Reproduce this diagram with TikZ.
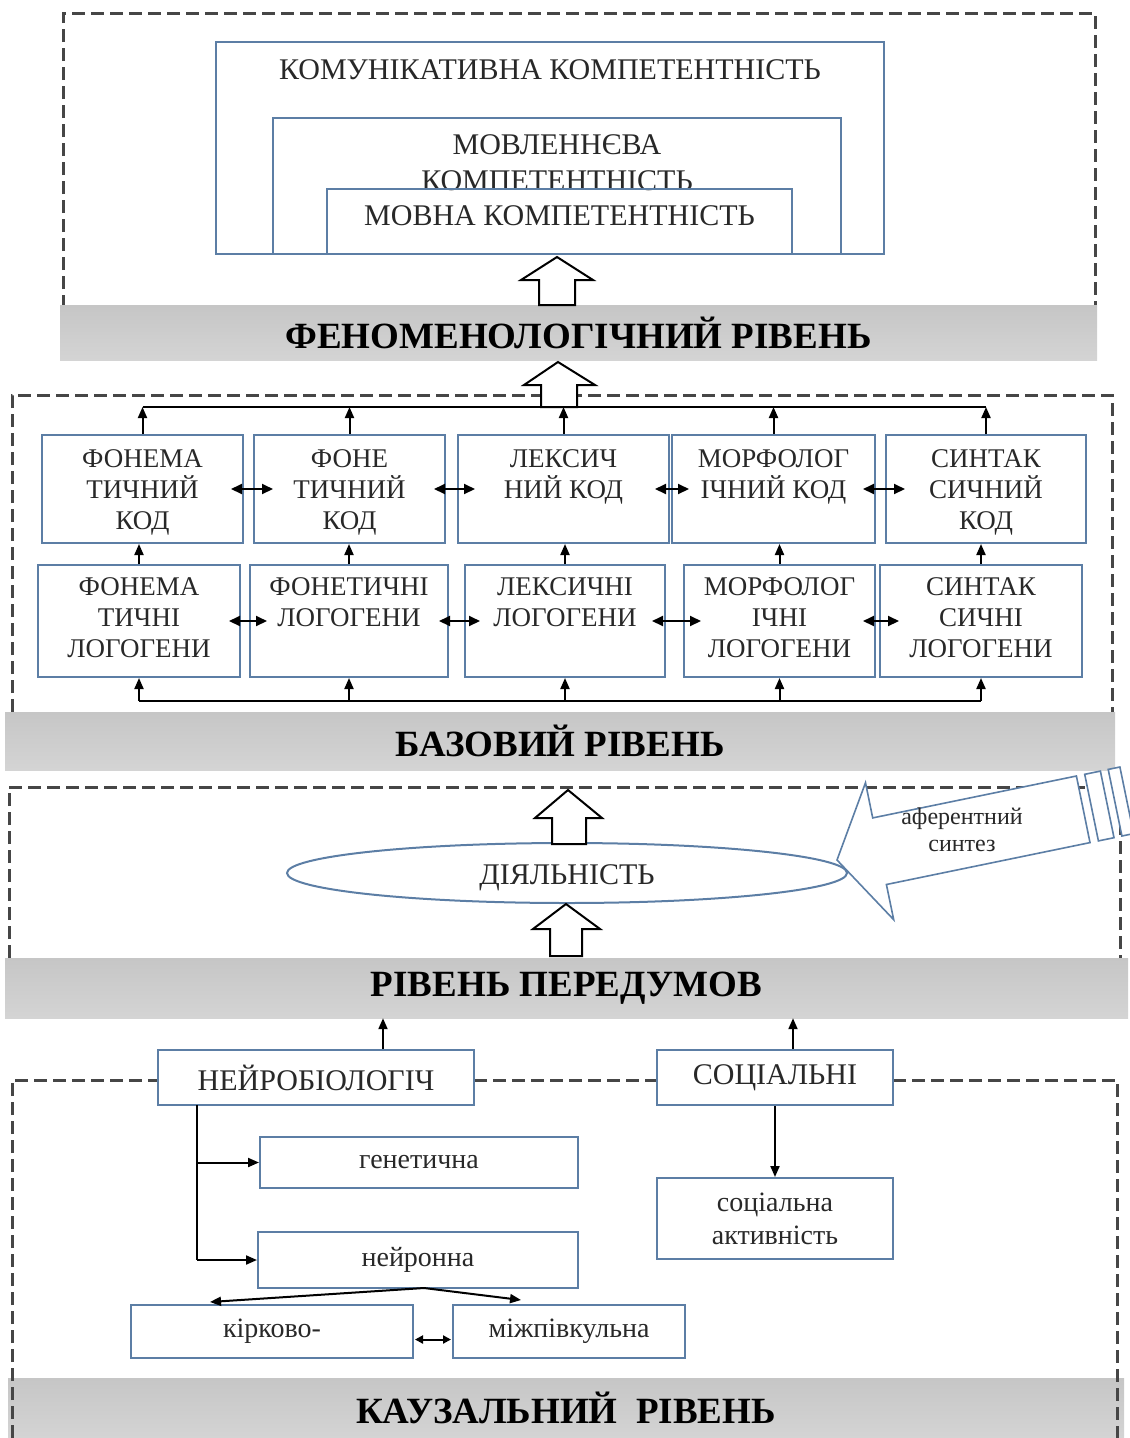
\documentclass[tikz,border=0pt]{standalone}
\usepackage{fontspec}
\setmainfont{Liberation Serif}
\usetikzlibrary{arrows.meta,shapes.geometric,calc}
\definecolor{boxc}{RGB}{92,126,165}
\definecolor{txtc}{RGB}{40,40,40}
\definecolor{dashc}{RGB}{70,70,70}
\definecolor{bandtop}{RGB}{198,198,198}
\definecolor{bandbot}{RGB}{212,212,212}
\begin{document}
\begin{tikzpicture}[x=1pt,y=-1pt,
 box/.style={draw=boxc,line width=2pt,rectangle,inner sep=0pt},
 lbl/.style={text=txtc,align=center,font=\fontsize{27}{31}\selectfont,inner sep=0pt},
 big/.style={text=txtc,align=center,font=\fontsize{30}{36}\selectfont,inner sep=0pt},
 low/.style={text=txtc,align=center,font=\fontsize{28}{33}\selectfont,inner sep=0pt},
 band/.style={rectangle,inner sep=0pt,top color=bandtop,bottom color=bandbot,text=black,font=\bfseries\fontsize{37}{40}\selectfont},
 dashln/.style={draw=dashc,line width=3pt,dash pattern=on 13pt off 6pt},
 arr/.style={-{Triangle[length=11pt,width=9pt]},line width=2pt,black},
 darr/.style={{Triangle[length=11pt,width=10pt]}-{Triangle[length=11pt,width=10pt]},line width=2pt,black},
 blk/.style={draw=black,line width=2pt,fill=white,line join=miter}
]
\useasboundingbox (0,0) rectangle (1130,1438);

% ---------- dashed frames ----------
\draw[dashln] (63,308) -- (63,13) -- (1095,13) -- (1095,308);
\draw[dashln] (12,712) -- (12,395) -- (1112,395) -- (1112,712);
\draw[dashln] (9,958) -- (9,787) -- (1085,787);
\draw[dashln] (1120,822) -- (1120,958);

% ---------- grey bands ----------
\node[band,minimum width=1037,minimum height=55] (b1) at (578.5,333) {ФЕНОМЕНОЛОГІЧНИЙ РІВЕНЬ};
\node[band,minimum width=1110,minimum height=58] (b2) at (560,741) {БАЗОВИЙ РІВЕНЬ};
\node[band,minimum width=1123,minimum height=60] (b3) at (566.5,988) {РІВЕНЬ ПЕРЕДУМОВ};
\node[band,minimum width=1116,minimum height=60] (b4) at (566,1408) {КАУЗАЛЬНИЙ\ \ РІВЕНЬ};

% ---------- phenomenological level ----------
\node[box,minimum width=668,minimum height=212] (kom) at (550,148) {};
\node[big,anchor=north] at ([yshift=-18pt]kom.north) {КОМУНІКАТИВНА КОМПЕТЕНТНІСТЬ};
\node[box,minimum width=568,minimum height=136] (mov) at (557,186) {};
\node[big,anchor=north] at ([yshift=-17pt]mov.north) {МОВЛЕННЄВА\\КОМПЕТЕНТНІСТЬ};
\node[box,minimum width=465,minimum height=65] (mn) at (559.5,221.5) {};
\node[big,anchor=north] at ([yshift=-17pt]mn.north) {МОВНА КОМПЕТЕНТНІСТЬ};

% block arrow kom <- b1
\draw[blk] (557,257) -- (593,280) -- (575,280) -- (575,305) -- (539,305) -- (539,280) -- (521,280) -- cycle;
% block arrow b1 <- base
\draw[blk] (558,362) -- (595,385) -- (577,385) -- (577,407) -- (541,407) -- (541,385) -- (524,385) -- cycle;

% ---------- base level ----------
\node[box,minimum width=201,minimum height=108] (c1) at (142.5,489) {};
\node[box,minimum width=191,minimum height=108] (c2) at (349.5,489) {};
\node[box,minimum width=211,minimum height=108] (c3) at (563.5,489) {};
\node[box,minimum width=203,minimum height=108] (c4) at (773.5,489) {};
\node[box,minimum width=200,minimum height=108] (c5) at (986,489) {};
\node[lbl,anchor=north] at ([yshift=-15pt]c1.north) {ФОНЕМА\\ТИЧНИЙ\\КОД};
\node[lbl,anchor=north] at ([yshift=-15pt]c2.north) {ФОНЕ\\ТИЧНИЙ\\КОД};
\node[lbl,anchor=north] at ([yshift=-15pt]c3.north) {ЛЕКСИЧ\\НИЙ КОД};
\node[lbl,anchor=north] at ([yshift=-15pt]c4.north) {МОРФОЛОГ\\ІЧНИЙ КОД};
\node[lbl,anchor=north] at ([yshift=-15pt]c5.north) {СИНТАК\\СИЧНИЙ\\КОД};

\node[box,minimum width=202,minimum height=112] (l1) at (139,621) {};
\node[box,minimum width=198,minimum height=112] (l2) at (349,621) {};
\node[box,minimum width=200,minimum height=112] (l3) at (565,621) {};
\node[box,minimum width=191,minimum height=112] (l4) at (779.5,621) {};
\node[box,minimum width=202,minimum height=112] (l5) at (981,621) {};
\node[lbl,anchor=north] at ([yshift=-13pt]l1.north) {ФОНЕМА\\ТИЧНІ\\ЛОГОГЕНИ};
\node[lbl,anchor=north] at ([yshift=-13pt]l2.north) {ФОНЕТИЧНІ\\ЛОГОГЕНИ};
\node[lbl,anchor=north] at ([yshift=-13pt]l3.north) {ЛЕКСИЧНІ\\ЛОГОГЕНИ};
\node[lbl,anchor=north] at ([yshift=-13pt]l4.north) {МОРФОЛОГ\\ІЧНІ\\ЛОГОГЕНИ};
\node[lbl,anchor=north] at ([yshift=-13pt]l5.north) {СИНТАК\\СИЧНІ\\ЛОГОГЕНИ};

\coordinate (tl) at (0,407);
\coordinate (bl) at (0,701);
\draw[line width=2pt] (c1.north |- tl) -- (c5.north |- tl);
\draw[line width=2pt] (l1.south |- bl) -- (l5.south |- bl);
\foreach \i in {1,...,5}{
  \draw[arr] (c\i.north) -- (c\i.north |- tl);
  \draw[arr] (l\i.north) -- (l\i.north |- c\i.south);
  \draw[arr] (l\i.south |- bl) -- (l\i.south);
}
\draw[darr] ([xshift=-13pt]c1.east) -- ([xshift=20pt]c2.west);
\draw[darr] ([xshift=-12pt]c2.east) -- ([xshift=18pt]c3.west);
\draw[darr] ([xshift=-15pt]c3.east) -- ([xshift=18pt]c4.west);
\draw[darr] ([xshift=-13pt]c4.east) -- ([xshift=20pt]c5.west);
\draw[darr] ([xshift=-12pt]l1.east) -- ([xshift=18pt]l2.west);
\draw[darr] ([xshift=-10pt]l2.east) -- ([xshift=16pt]l3.west);
\draw[darr] ([xshift=-14pt]l3.east) -- ([xshift=18pt]l4.west);
\draw[darr] ([xshift=-13pt]l4.east) -- ([xshift=20pt]l5.west);

% ---------- level of prerequisites ----------
% afferent synthesis striped arrow
\draw[draw=boxc,line width=1.6pt,fill=white,line join=miter]
  (837,860) -- (865.5,782.7) -- (872.7,817.9) -- (1076.4,776) -- (1090,842.6)
  -- (886.4,884.5) -- (893.7,919.7) -- cycle;
\draw[draw=boxc,line width=1.6pt,fill=white] (1084.7,774.3) -- (1100.4,771.1) -- (1114,837.7) -- (1098.4,840.9) -- cycle;
\draw[draw=boxc,line width=1.6pt,fill=white] (1108.2,769.4) -- (1119.9,767) -- (1133.6,833.6) -- (1121.9,836) -- cycle;
\node[text=txtc,align=center,font=\fontsize{24}{27}\selectfont,inner sep=0pt] (aff) at (962,830) {аферентний\\синтез};

\node[draw=boxc,line width=2pt,ellipse,minimum width=560,minimum height=60,inner sep=0pt] (act) at (567,873) {};
\node[big] (actt) at ([yshift=-5pt]act.center) {ДІЯЛЬНІСТЬ};

\draw[blk] (568,790) -- (602,818) -- (586,818) -- (586,844) -- (552,844) -- (552,818) -- (535,818) -- cycle;
\draw[blk] (566,904) -- (600,929) -- (582,929) -- (582,956) -- (550,956) -- (550,929) -- (533,929) -- cycle;

% ---------- causal level ----------
\draw[dashln] (12,1438) -- (12,1080) -- (158,1080);
\draw[dashln] (474,1080) -- (657,1080);
\draw[dashln] (893,1080) -- (1117,1080) -- (1117,1438);

\node[box,big,minimum width=316,minimum height=55] (nb) at (316,1077.5) {НЕЙРОБІОЛОГІЧ};
\node[box,big,minimum width=236,minimum height=55] (so) at (775,1077.5) {СОЦІАЛЬНІ};
\node[box,low,minimum width=318,minimum height=51] (ge) at (419,1162.5) {генетична};
\node[box,low,minimum width=320,minimum height=56] (ne) at (418,1260) {нейронна};
\node[box,low,minimum width=282,minimum height=53] (ki) at (272,1331.5) {кірково-};
\node[box,low,minimum width=232,minimum height=53] (mi) at (569,1331.5) {міжпівкульна};
\node[box,low,minimum width=236,minimum height=81] (sa) at (775,1218.5) {соціальна\\активність};

\draw[arr] ([xshift=67pt]nb.north) -- ([xshift=67pt]nb.north |- b3.south);
\draw[arr] ([xshift=18pt]so.north) -- ([xshift=18pt]so.north |- b3.south);
\coordinate (nbd) at (197,1105);
\draw[line width=2pt] (nbd) -- (nbd |- ne.west);
\draw[arr] (nbd |- ge.west) -- (ge.west);
\draw[arr] (nbd |- ne.west) -- (ne.west);
\draw[arr] (so.south) -- (sa.north);
\coordinate (apex) at (424,1288);
\draw[arr] (apex) -- ([xshift=-62pt,yshift=2pt]ki.north);
\draw[arr] (apex) -- ([xshift=-48pt,yshift=4pt]mi.north);
\draw[{Triangle[length=8pt,width=8pt]}-{Triangle[length=8pt,width=8pt]},line width=2pt] ([xshift=1pt,yshift=-8pt]ki.east) -- ([xshift=-1pt,yshift=-8pt]mi.west);
\end{tikzpicture}
\end{document}
